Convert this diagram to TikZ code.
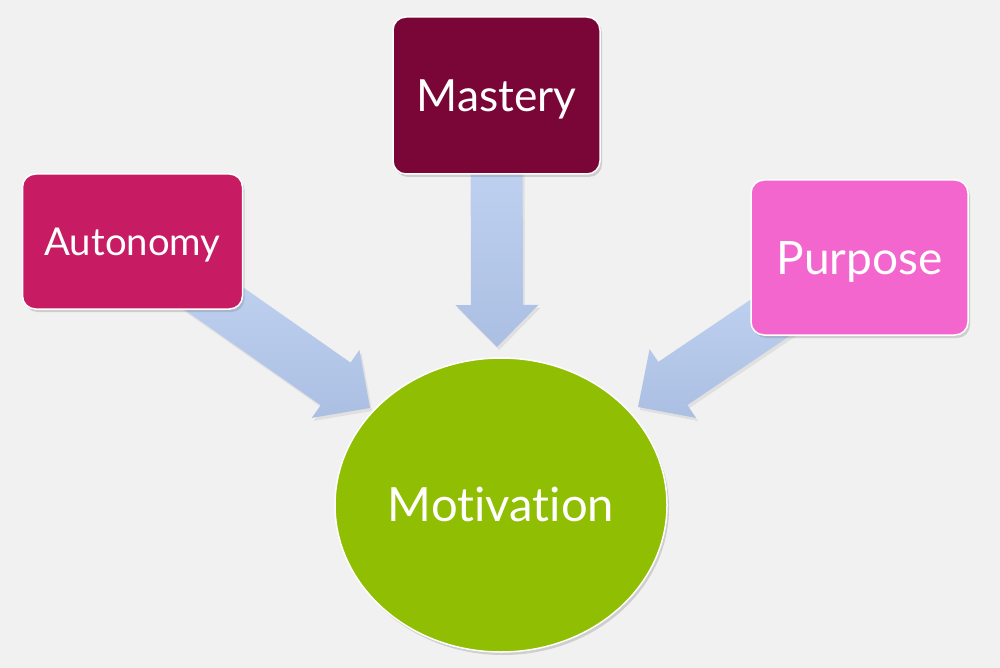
\documentclass[tikz,border=0pt]{standalone}
\usepackage{fontspec}
\setmainfont{Lato}[Ligatures=NoCommon]
\usetikzlibrary{calc,shapes.geometric,shadows,backgrounds}

\definecolor{bgcol}{HTML}{F1F1F1}
\definecolor{autcol}{HTML}{C71B64}
\definecolor{mascol}{HTML}{790637}
\definecolor{purcol}{HTML}{F266CE}
\definecolor{motcol}{HTML}{8FBE02}
\definecolor{arrtop}{HTML}{C6D8F5}
\definecolor{arrbot}{HTML}{ABBFE3}

% block arrow from a node centre to a tip coordinate
\newcommand{\blockarrow}[2]{%
  \path ($(#2)!42pt!(#1.center)$) coordinate (hb);
  \shade[arr] ($(#1.center)!26pt!90:(#2)$) -- ($(hb)!26pt!90:(#2)$)
    -- ($(hb)!41.5pt!90:(#2)$) -- (#2) -- ($(hb)!41.5pt!-90:(#2)$)
    -- ($(hb)!26pt!-90:(#2)$) -- ($(#1.center)!26pt!-90:(#2)$) -- cycle;}

\begin{document}
\begin{tikzpicture}[
  x=1pt, y=-1pt,
  box/.style={draw=white, line width=1.5pt, rounded corners=13pt, text=white,
    text depth=0pt, inner sep=0pt,
    drop shadow={shadow xshift=2pt, shadow yshift=-3pt, opacity=0.3}},
  fs/.style={font=\fontsize{#1pt}{#1pt}\selectfont, text height=0.72*#1pt},
  circ/.style={box, ellipse, rounded corners=0pt},
  arr/.style={top color=arrtop, bottom color=arrbot,
    drop shadow={shadow xshift=2pt, shadow yshift=-3pt, opacity=0.15}}
]
\useasboundingbox (0,0) rectangle (1000,668);

\node[box, fill=autcol, minimum width=220pt, minimum height=135pt, fs=38.3]
  (aut) at (132.5,241.5) {Autonomy};
\node[box, fill=mascol, minimum width=207pt, minimum height=157pt, fs=44.3]
  (mas) at (496.5,95.5) {Mastery};
\node[box, fill=purcol, minimum width=217pt, minimum height=155pt, fs=46]
  (pur) at (859.5,257.5) {Purpose};
\node[circ, fill=motcol, minimum width=332pt, minimum height=294pt, fs=47.2]
  (mot) at (501,505) {Motivation};

\coordinate (tipA) at (370,408);
\coordinate (tipM) at (497,347);
\coordinate (tipP) at (638,407);

\begin{scope}[on background layer]
  \fill[bgcol] (0,0) rectangle (1000,668);
  \blockarrow{aut}{tipA}
  \blockarrow{mas}{tipM}
  \blockarrow{pur}{tipP}
\end{scope}
\end{tikzpicture}
\end{document}
